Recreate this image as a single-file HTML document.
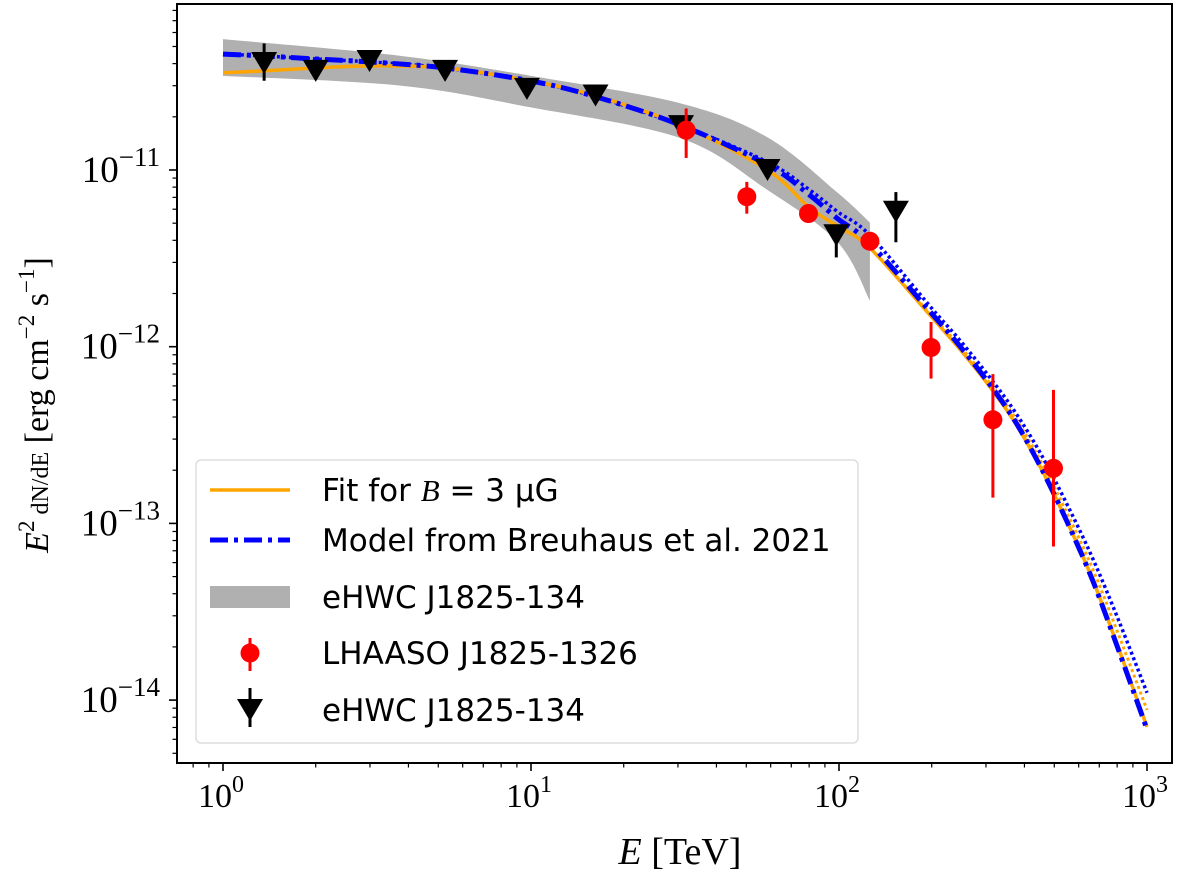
<!DOCTYPE html>
<html><head><meta charset="utf-8"><style>
body{margin:0;background:#fff;width:1200px;height:878px;overflow:hidden}
svg text{font-family:"Liberation Serif",serif;fill:#000}
.leg{font-family:"DejaVu Sans","Liberation Sans",sans-serif;font-size:31px}
</style></head><body>
<svg id="chart" width="1200" height="878" xmlns="http://www.w3.org/2000/svg"></svg>
<script>
// data
const bandE=[1,3.8,10,30.7,58.6,99,126];
const bandHi=[5.5e-11,4.42e-11,3.41e-11,2.38e-11,1.53e-11,7.43e-12,5.04e-12];
const bandLo=[3.41e-11,3.0e-11,2.26e-11,1.51e-11,7.7e-12,3.9e-12,1.82e-12];
const curveE=[1,1.36,2.0,2.99,5.26,9.9,16.2,30.7,58.6,79.6,99,126,200,246.6,309,371.6,450,549,667,812,1000];
const fitOrange=[3.55e-11,3.64e-11,3.78e-11,3.88e-11,3.78e-11,3.2e-11,2.63e-11,1.79e-11,1.0e-11,6.18e-12,4.8e-12,3.62e-12,1.47e-12,9.7e-13,5.92e-13,3.75e-13,2.09e-13,1.03e-13,4.78e-14,1.92e-14,7.05e-15];
const fitOrangeDot=[3.55e-11,3.64e-11,3.78e-11,3.88e-11,3.78e-11,3.2e-11,2.63e-11,1.79e-11,1.0e-11,6.18e-12,4.8e-12,3.62e-12,1.5e-12,1.01e-12,6.22e-13,4.01e-13,2.28e-13,1.15e-13,5.5e-14,2.3e-14,8.8e-15];
const modelBlue=[4.53e-11,4.42e-11,4.25e-11,4.09e-11,3.78e-11,3.2e-11,2.6e-11,1.79e-11,1.07e-11,7.3e-12,5.3e-12,3.84e-12,1.54e-12,1.01e-12,6.1e-13,3.83e-13,2.11e-13,1.03e-13,4.73e-14,1.88e-14,6.84e-15];
const modelBlueDot=[4.53e-11,4.42e-11,4.25e-11,4.09e-11,3.78e-11,3.2e-11,2.6e-11,1.79e-11,1.11e-11,7.8e-12,5.8e-12,4.27e-12,1.65e-12,1.09e-12,6.69e-13,4.31e-13,2.51e-13,1.29e-13,6.31e-14,2.78e-14,1.1e-14];
const lhE=[31.9,50.2,79.6,126,199,316,497];
const lhF=[1.68e-11,7.06e-12,5.67e-12,3.95e-12,9.9e-13,3.86e-13,2.05e-13];
const lhHi=[2.23e-11,8.56e-12,6.4e-12,4.4e-12,1.38e-12,7.0e-13,5.7e-13];
const lhLo=[1.17e-11,5.66e-12,5.1e-12,3.56e-12,6.6e-13,1.4e-13,7.4e-14];
const hwE=[1.36,2.0,2.99,5.26,9.7,16.2,30.7,58.6,98];
const hwF=[4.03e-11,3.64e-11,4.14e-11,3.64e-11,2.88e-11,2.64e-11,1.77e-11,1.0e-11,4.27e-12];
const hwHi=[5.2e-11,null,null,null,null,null,null,null,4.9e-12];
const hwLo=[3.2e-11,null,null,null,null,null,null,null,3.2e-12];
const ulE=[153];
const ulF=[5.8e-12];
const ulTop=[7.5e-12];
const ulBot=[3.9e-12];
const xTicks=[0,1,2,3];
const yTicks=[-11,-12,-13,-14];

const L=177,R=1172,T=4,B=763;
const X=e=>223+308*Math.log10(e);
const Y=f=>170-176.7*(Math.log10(f)+11);
const svg=document.getElementById('chart');
const NS='http://www.w3.org/2000/svg';
function mk(tag,attrs,parent){const el=document.createElementNS(NS,tag);for(const k in attrs)el.setAttribute(k,attrs[k]);(parent||svg).appendChild(el);return el;}
function smooth(xs,ys){
  const p=xs.map((x,i)=>[X(x),Y(ys[i])]);
  let d='M'+p[0][0]+','+p[0][1];
  for(let i=0;i<p.length-1;i++){
    const p0=p[Math.max(0,i-1)],p1=p[i],p2=p[i+1],p3=p[Math.min(p.length-1,i+2)];
    const c1=[p1[0]+(p2[0]-p0[0])/6,p1[1]+(p2[1]-p0[1])/6];
    const c2=[p2[0]-(p3[0]-p1[0])/6,p2[1]-(p3[1]-p1[1])/6];
    d+=` C${c1[0]},${c1[1]} ${c2[0]},${c2[1]} ${p2[0]},${p2[1]}`;
  }
  return d;
}
const defs=mk('defs',{});
const cp=mk('clipPath',{id:'clip'},defs);mk('rect',{x:L,y:T,width:R-L,height:B-T},cp);
const plot=mk('g',{'clip-path':'url(#clip)'});



// band
{
  let d=smooth(bandE,bandHi);
  const lo=smooth(bandE.slice().reverse(),bandLo.slice().reverse());
  d+=' L'+lo.slice(1)+' Z';
  const b=mk('path',{d:d,fill:'#b0b0b0'},plot);
  
  
}
function line(vals,color,dash,name,w){
  const l=mk('path',{d:smooth(curveE,vals),fill:'none',stroke:color,'stroke-width':w,'stroke-dasharray':dash},plot);
  
  
}
line(fitOrangeDot,'orange','3,3','fit-orange-dotted',3);
line(modelBlueDot,'blue','3,3','model-blue-dotted',3.5);
line(fitOrange,'orange','none','fit-orange-line',3.5);
line(modelBlue,'blue','18,6,4,6','model-blue-dashdot',5);

function tri(cx,cy,g){mk('path',{d:`M${cx-13},${cy-11} L${cx+13},${cy-11} L${cx},${cy+11} Z`,fill:'#000'},g);}
hwE.forEach((e,i)=>{
  const g=mk('g',{},plot);
  
  
  if(hwHi[i])mk('line',{x1:X(e),x2:X(e),y1:Y(hwHi[i]),y2:Y(hwLo[i]),stroke:'#000','stroke-width':3},g);
  tri(X(e),Y(hwF[i]),g);
});
ulE.forEach((e,i)=>{
  const g=mk('g',{},plot);
  
  
  mk('line',{x1:X(e),x2:X(e),y1:Y(ulTop[i]),y2:Y(ulBot[i]),stroke:'#000','stroke-width':3},g);
  tri(X(e),Y(ulF[i]),g);
});
lhE.forEach((e,i)=>{
  const g=mk('g',{},plot);
  
  
  mk('line',{x1:X(e),x2:X(e),y1:Y(lhHi[i]),y2:Y(lhLo[i]),stroke:'red','stroke-width':3},g);
  mk('circle',{cx:X(e),cy:Y(lhF[i]),r:9.5,fill:'red'},g);
});

// axes frame
const fr=mk('rect',{x:L,y:T,width:R-L,height:B-T,fill:'none',stroke:'#000','stroke-width':2});


// x ticks
for(let d=-1;d<=3;d++)for(let m=1;m<10;m++){
  const x=223+308*(d+Math.log10(m));if(x<L||x>R)continue;
  mk('line',{x1:x,x2:x,y1:B,y2:B+(m==1?8:4.5),stroke:'#000','stroke-width':m==1?1.6:1.2});
}
xTicks.forEach(p=>{
  const t=mk('text',{x:223+308*p-2,y:807,'font-size':34,'text-anchor':'middle'});
  
  
  t.innerHTML=`10<tspan dy="-15" font-size="24">${p}</tspan>`;
});
// y ticks
for(let d=-15;d<=-10;d++)for(let m=1;m<10;m++){
  const y=Y(m*Math.pow(10,d));if(y<T||y>B)continue;
  mk('line',{x1:L-(m==1?8:4.5),x2:L,y1:y,y2:y,stroke:'#000','stroke-width':m==1?1.6:1.2});
}
yTicks.forEach(p=>{
  const t=mk('text',{x:160,y:Y(Math.pow(10,p))+12,'font-size':37,'text-anchor':'end'});
  
  
  t.innerHTML=`10<tspan dy="-16" font-size="27">−${-p}</tspan>`;
});
const xl=mk('text',{x:680,y:864,'font-size':38,'text-anchor':'middle'});


xl.innerHTML='<tspan font-style="italic">E</tspan> [TeV]';
const yl=mk('text',{x:0,y:0,'font-size':34,'text-anchor':'middle',transform:'translate(48,405) rotate(-90)'});


yl.innerHTML='<tspan font-style="italic">E</tspan><tspan dy="-14" font-size="23">2</tspan><tspan dy="14" font-size="24"> dN/dE</tspan> [erg cm<tspan dy="-14" font-size="23">−2</tspan><tspan dy="14"> s</tspan><tspan dy="-14" font-size="23">−1</tspan><tspan dy="14">]</tspan>';

// legend
const lg=mk('g',{});


mk('rect',{x:196,y:460,width:662,height:283,rx:5,fill:'#fff','fill-opacity':0.85,stroke:'#ddd','stroke-width':1.5},lg);
const rows=[490,540,597,653,710];
const labels=['Fit for <tspan font-style="italic" font-family="Liberation Serif">B</tspan> = 3 μG','Model from Breuhaus et al. 2021','eHWC J1825-134','LHAASO J1825-1326','eHWC J1825-134'];
mk('line',{x1:210,x2:290,y1:rows[0],y2:rows[0],stroke:'orange','stroke-width':3.5},lg);
mk('line',{x1:210,x2:290,y1:rows[1],y2:rows[1],stroke:'blue','stroke-width':5,'stroke-dasharray':'18,6,4,6'},lg);
mk('rect',{x:210,y:rows[2]-11,width:80,height:22,fill:'#b0b0b0'},lg);
mk('line',{x1:250,x2:250,y1:rows[3]-15,y2:rows[3]+18,stroke:'red','stroke-width':3},lg);
mk('circle',{cx:250,cy:rows[3],r:9.5,fill:'red'},lg);
mk('line',{x1:250,x2:250,y1:rows[4]-22,y2:rows[4]+17,stroke:'#000','stroke-width':3},lg);
tri(250,rows[4],lg);
labels.forEach((s,i)=>{
  const t=mk('text',{x:322,y:rows[i]+11,class:'leg'},lg);
  
  
  t.innerHTML=s;
});
</script>
</body></html>
